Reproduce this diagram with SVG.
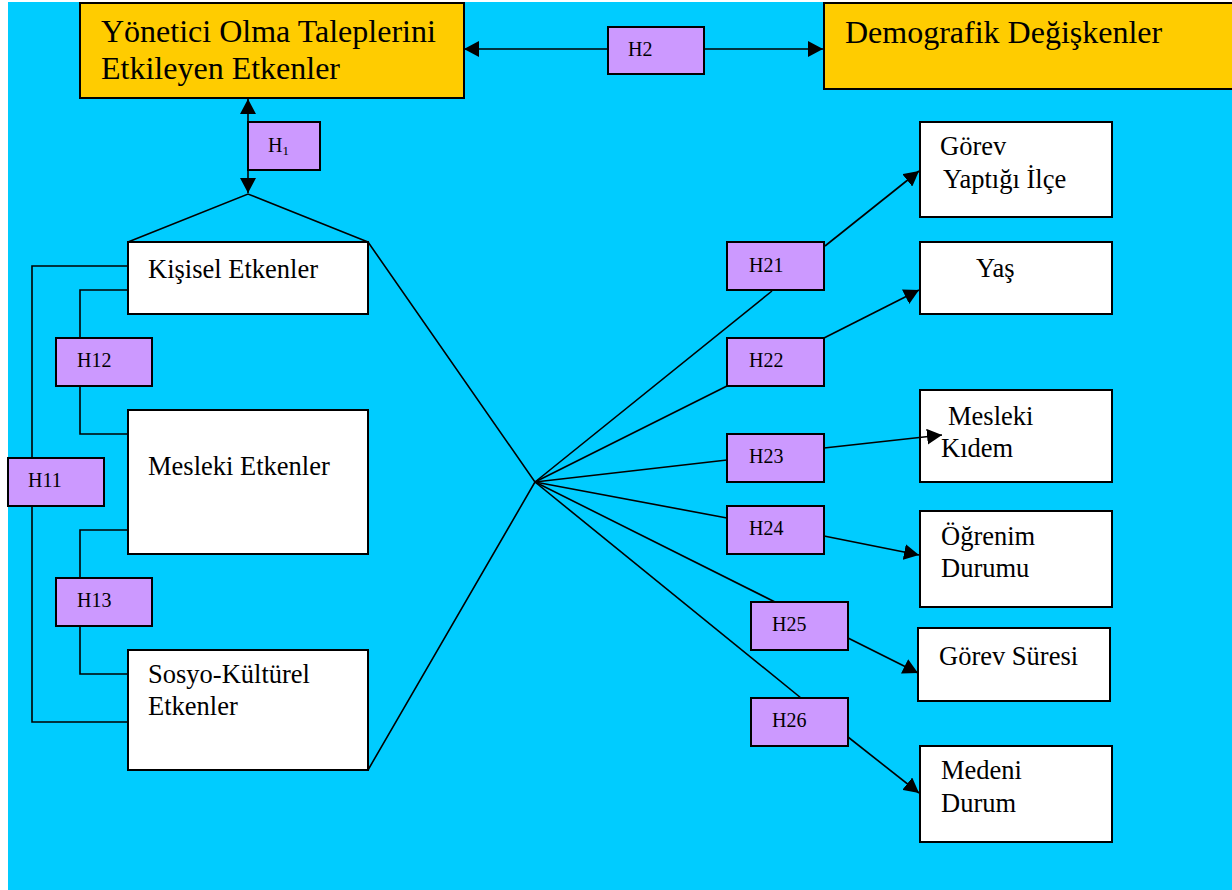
<svg xmlns="http://www.w3.org/2000/svg" width="1232" height="890" viewBox="0 0 1232 890">
<style>
.bg{fill:#00CCFF}
.main{fill:#FFCC00;stroke:#000;stroke-width:2}
.box{fill:#FFFFFF;stroke:#000;stroke-width:2}
.hbox{fill:#CC99FF;stroke:#000;stroke-width:2}
.ln{fill:none;stroke:#000;stroke-width:1.6}
text{fill:#000}
.t32{font-size:32px}
.t26{font-size:26.5px}
.t20{font-size:20px}
</style>
<defs>
<marker id="ah" markerUnits="userSpaceOnUse" markerWidth="16" markerHeight="16" refX="15" refY="8" orient="auto-start-reverse">
<path d="M0,0 L15,8 L0,16 z" fill="#000"/>
</marker>
</defs>
<rect class="bg" x="8" y="2" width="1224" height="888"/>

<g font-family="Liberation Serif, Tinos, Times New Roman, DejaVu Serif, serif">
<g id="n-yonetici">
<rect class="main" x="80" y="3" width="384" height="95"/>
<text class="t32" x="101" y="42">Yönetici Olma Taleplerini</text>
<text class="t32" x="101" y="79">Etkileyen Etkenler</text>
</g>
<g id="n-demografik">
<rect class="main" x="824" y="3" width="410" height="86"/>
<text class="t32" x="845" y="43">Demografik Değişkenler</text>
</g>
<g id="n-kisisel">
<rect class="box" x="128" y="242" width="240" height="72"/>
<text class="t26" x="148" y="278">Kişisel Etkenler</text>
</g>
<g id="n-mesleki">
<rect class="box" x="128" y="410" width="240" height="144"/>
<text class="t26" x="148" y="475">Mesleki Etkenler</text>
</g>
<g id="n-sosyo">
<rect class="box" x="128" y="650" width="240" height="120"/>
<text class="t26" x="148" y="683">Sosyo-Kültürel</text>
<text class="t26" x="148" y="715">Etkenler</text>
</g>
<g id="n-ilce">
<rect class="box" x="920" y="122" width="192" height="95"/>
<text class="t26" x="940" y="155">Görev</text>
<text class="t26" x="943" y="188">Yaptığı İlçe</text>
</g>
<g id="n-yas">
<rect class="box" x="920" y="242" width="192" height="72"/>
<text class="t26" x="976" y="277">Yaş</text>
</g>
<g id="n-kidem">
<rect class="box" x="920" y="390" width="192" height="92"/>
<text class="t26" x="948" y="425">Mesleki</text>
<text class="t26" x="941" y="457">Kıdem</text>
</g>
<g id="n-ogrenim">
<rect class="box" x="920" y="511" width="192" height="96"/>
<text class="t26" x="941" y="545">Öğrenim</text>
<text class="t26" x="941" y="577">Durumu</text>
</g>
<g id="n-suresi">
<rect class="box" x="918" y="628" width="192" height="73"/>
<text class="t26" x="939" y="665">Görev Süresi</text>
</g>
<g id="n-medeni">
<rect class="box" x="920" y="746" width="192" height="96"/>
<text class="t26" x="941" y="779">Medeni</text>
<text class="t26" x="941" y="812">Durum</text>
</g>

<g id="connectors">
<line class="ln" x1="464" y1="49" x2="823" y2="49" marker-start="url(#ah)" marker-end="url(#ah)"/>
<line class="ln" x1="248" y1="99" x2="248" y2="193" marker-start="url(#ah)" marker-end="url(#ah)"/>
<polyline class="ln" points="128,242 248,194 368,242"/>
<polyline class="ln" points="128,266 32,266 32,722 128,722"/>
<polyline class="ln" points="128,290 80,290 80,434 128,434"/>
<polyline class="ln" points="128,530 80,530 80,674 128,674"/>
<polyline class="ln" points="368,242 535,482 368,770"/>
<line class="ln" x1="535" y1="482" x2="772" y2="291"/>
<line class="ln" x1="825" y1="246" x2="919" y2="171" marker-end="url(#ah)"/>
<line class="ln" x1="535" y1="482" x2="727" y2="386"/>
<line class="ln" x1="824" y1="338" x2="919" y2="290" marker-end="url(#ah)"/>
<line class="ln" x1="535" y1="482" x2="727" y2="460"/>
<line class="ln" x1="824" y1="448" x2="942" y2="435" marker-end="url(#ah)"/>
<line class="ln" x1="535" y1="482" x2="727" y2="518"/>
<line class="ln" x1="824" y1="536" x2="919" y2="555" stroke-width="2.2" marker-end="url(#ah)"/>
<line class="ln" x1="535" y1="482" x2="775" y2="602" stroke-width="1.2"/>
<line class="ln" x1="848" y1="638" x2="918" y2="673" stroke-width="1.2" marker-end="url(#ah)"/>
<line class="ln" x1="535" y1="482" x2="801" y2="698" stroke-width="2"/>
<line class="ln" x1="848" y1="737" x2="919" y2="793" stroke-width="2" marker-end="url(#ah)"/>
</g>

<g id="n-h2">
<rect class="hbox" x="608" y="27" width="96" height="47"/>
<text class="t20" x="628" y="56">H2</text>
</g>
<g id="n-h1">
<rect class="hbox" x="248" y="122" width="72" height="48"/>
<text class="t20" x="268" y="152">H<tspan font-size="13" dy="3">1</tspan></text>
</g>
<g id="n-h11">
<rect class="hbox" x="8" y="458" width="96" height="48"/>
<text class="t20" x="28" y="487">H11</text>
</g>
<g id="n-h12">
<rect class="hbox" x="56" y="338" width="96" height="48"/>
<text class="t20" x="77" y="367">H12</text>
</g>
<g id="n-h13">
<rect class="hbox" x="56" y="578" width="96" height="48"/>
<text class="t20" x="77" y="607">H13</text>
</g>
<g id="n-h21">
<rect class="hbox" x="727" y="242" width="97" height="48"/>
<text class="t20" x="749" y="272">H21</text>
</g>
<g id="n-h22">
<rect class="hbox" x="727" y="338" width="97" height="48"/>
<text class="t20" x="749" y="367">H22</text>
</g>
<g id="n-h23">
<rect class="hbox" x="727" y="434" width="97" height="48"/>
<text class="t20" x="749" y="463">H23</text>
</g>
<g id="n-h24">
<rect class="hbox" x="727" y="506" width="97" height="48"/>
<text class="t20" x="749" y="535">H24</text>
</g>
<g id="n-h25">
<rect class="hbox" x="751" y="602" width="97" height="48"/>
<text class="t20" x="772" y="631">H25</text>
</g>
<g id="n-h26">
<rect class="hbox" x="751" y="698" width="97" height="48"/>
<text class="t20" x="772" y="727">H26</text>
</g>
</g>
</svg>
